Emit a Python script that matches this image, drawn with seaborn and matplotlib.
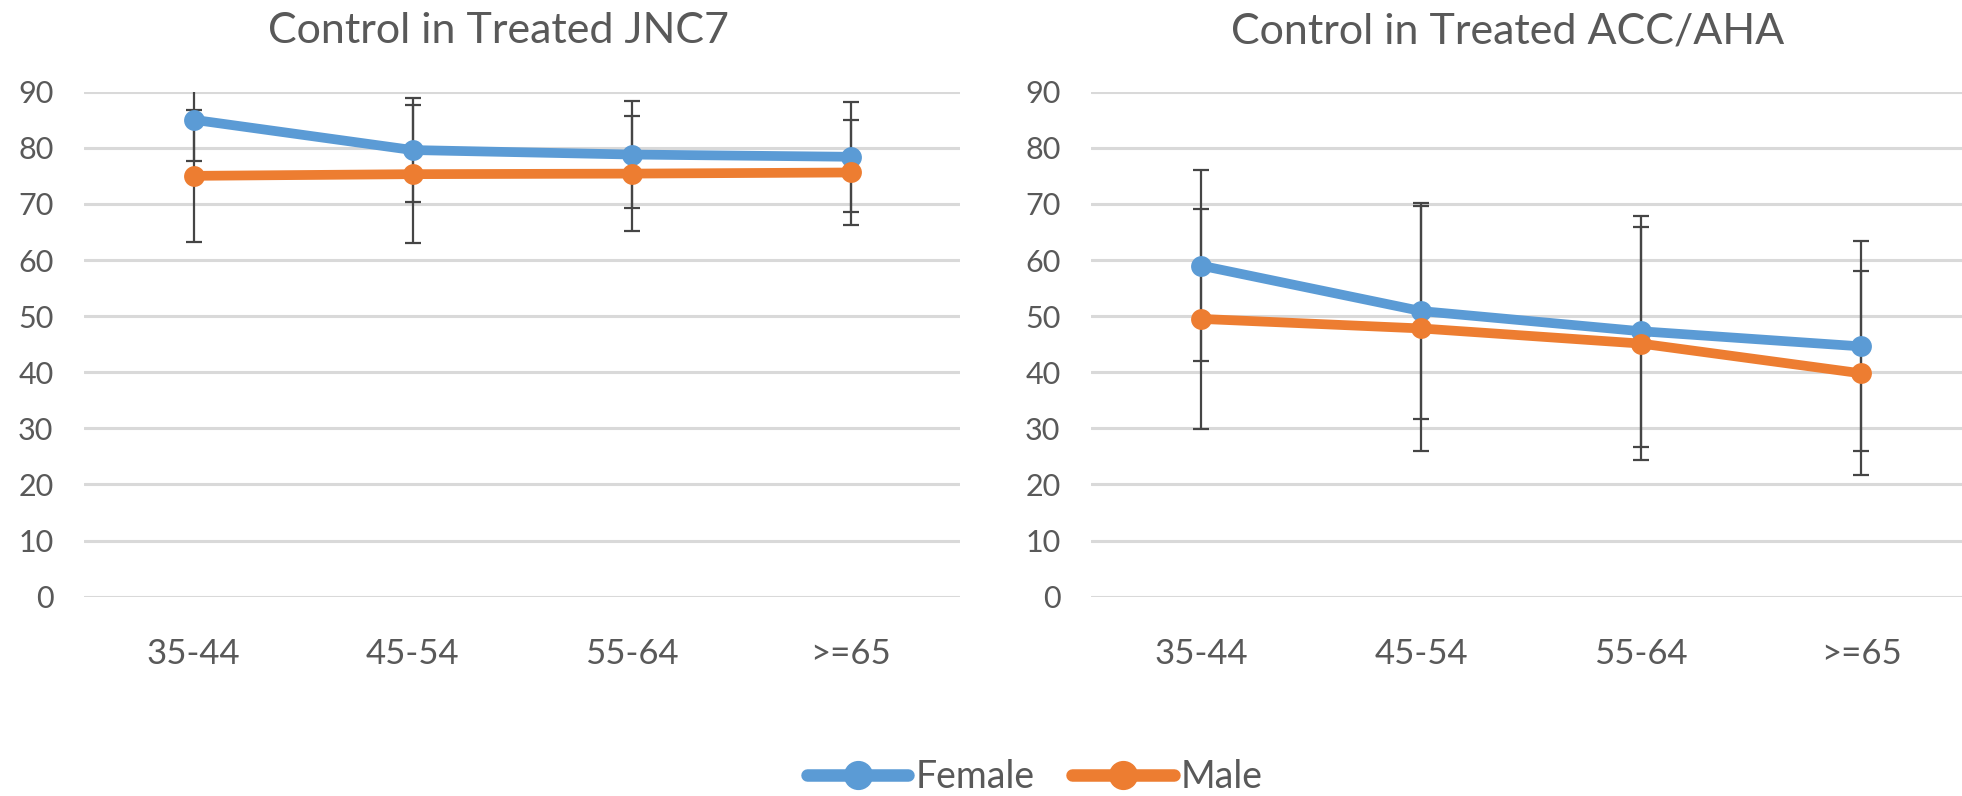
# ==========================================
# Control in Treated - JNC7 vs ACC/AHA
# ==========================================

import pandas as pd
import matplotlib
matplotlib.use("Agg")
import matplotlib.pyplot as plt
from matplotlib.lines import Line2D
import seaborn as sns

# Data
age_groups = ["35-44", "45-54", "55-64", ">=65"]

jnc7_female = [85.0, 79.6, 78.8, 78.4]
jnc7_female_err = [7.4, 9.2, 9.6, 9.8]
jnc7_male = [75.0, 75.3, 75.4, 75.6]
jnc7_male_err = [11.8, 12.3, 10.2, 9.4]

acc_female = [59.0, 50.9, 47.3, 44.6]
acc_female_err = [17.0, 19.3, 20.6, 18.7]
acc_male = [49.5, 47.8, 45.1, 39.8]
acc_male_err = [19.6, 21.8, 20.7, 18.2]

titles = ["Control in Treated JNC7", "Control in Treated ACC/AHA"]
y_ticks = [0, 10, 20, 30, 40, 50, 60, 70, 80, 90]

blue = "#5b9bd5"
orange = "#ed7d31"
text_gray = "#595959"

# Style
sns.set_theme(style="white")
plt.rcParams["font.family"] = ["Lato", "DejaVu Sans"]

fig = plt.figure(figsize=(19.62, 7.96), dpi=100)

# axes placed in figure coordinates (pixels / figure size)
ax_left = fig.add_axes([84 / 1962, 199.4 / 796, 876 / 1962, 504.9 / 796])
ax_right = fig.add_axes([1091 / 1962, 199.4 / 796, 880 / 1962, 504.9 / 796])

panels = [
    (ax_left, jnc7_female, jnc7_female_err, jnc7_male, jnc7_male_err),
    (ax_right, acc_female, acc_female_err, acc_male, acc_male_err),
]

for ax, f_vals, f_err, m_vals, m_err in panels:
    df = pd.DataFrame({
        "age": age_groups * 2,
        "value": f_vals + m_vals,
        "sex": ["Female"] * 4 + ["Male"] * 4,
    })

    # Error bars under the lines
    ax.errorbar(age_groups, f_vals, yerr=f_err, fmt="none", ecolor="#454545",
                elinewidth=1.6, capsize=5.5, capthick=1.6, zorder=2)
    ax.errorbar(age_groups, m_vals, yerr=m_err, fmt="none", ecolor="#454545",
                elinewidth=1.6, capsize=5.5, capthick=1.6, zorder=2)

    sns.lineplot(data=df, x="age", y="value", hue="sex",
                 palette={"Female": blue, "Male": orange},
                 marker="o", markersize=15, markeredgewidth=0,
                 linewidth=7, legend=False, ax=ax, zorder=3)

    ax.set_xlim(-0.5, 3.5)
    ax.set_ylim(0, 90)
    ax.set_yticks(y_ticks)
    ax.set_xlabel("")
    ax.set_ylabel("")
    ax.yaxis.grid(True, color="#d9d9d9", linewidth=2.2)
    ax.xaxis.grid(False)
    ax.set_axisbelow(True)
    for spine in ax.spines.values():
        spine.set_visible(False)
    ax.tick_params(axis="y", length=0, pad=22, labelsize=22, labelcolor=text_gray)
    ax.tick_params(axis="x", length=0, pad=30, labelsize=25, labelcolor=text_gray)

# Titles
fig.text(498 / 1962, 1 - 31 / 796, titles[0], ha="center", va="center",
         fontsize=31, color=text_gray)
fig.text(1508 / 1962, 1 - 31 / 796, titles[1], ha="center", va="center",
         fontsize=31, color=text_gray)

# Legend
handles = [
    Line2D([], [], color=blue, linewidth=9, marker="o", markersize=20),
    Line2D([], [], color=orange, linewidth=9, marker="o", markersize=20),
]
fig.legend(handles, ["Female", "Male"], loc="center",
           bbox_to_anchor=(1035 / 1962, 1 - 777 / 796), ncol=2, frameon=False,
           fontsize=27, labelcolor=text_gray, handlelength=2.7,
           handletextpad=0.2, columnspacing=1.0)

plt.savefig("out.png", dpi=100)
